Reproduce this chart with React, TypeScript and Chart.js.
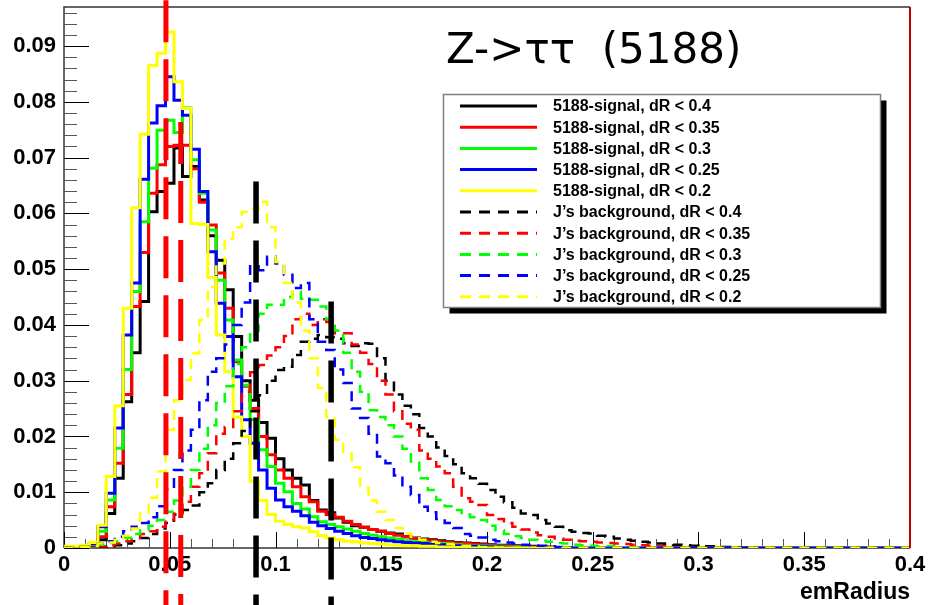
import { useEffect, useRef } from 'react';
import { Chart, registerables } from 'chart.js';

Chart.register(...registerables);

// ---------------- data ----------------
const BIN_WIDTH = 0.004;
const N_BINS = 100;
const X_MIN = 0;
const X_MAX = 0.4;
const Y_MAX = 0.097;

const TITLE = 'Z->ττ  (5188)';
const X_TITLE = 'emRadius';

const signalLabels = [
  '5188-signal, dR < 0.4',
  '5188-signal, dR < 0.35',
  '5188-signal, dR < 0.3',
  '5188-signal, dR < 0.25',
  '5188-signal, dR < 0.2',
];
const backgroundLabels = [
  'J’s background, dR < 0.4',
  'J’s background, dR < 0.35',
  'J’s background, dR < 0.3',
  'J’s background, dR < 0.25',
  'J’s background, dR < 0.2',
];
const seriesColors = ['#000000', '#ff0000', '#00ff00', '#0000ff', '#ffff00'];

// signal histograms (bin contents, bin i starts at i*0.004)
const sigDR040 = [
  0.0001, 0.0001, 0.0002, 0.0005, 0.0015, 0.0062, 0.0125, 0.0262, 0.035, 0.0442,
  0.0603, 0.0639, 0.0654, 0.0717, 0.0666, 0.0684, 0.0624, 0.056, 0.0516, 0.0463,
  0.0379, 0.03, 0.0265, 0.0225, 0.0197, 0.016, 0.014, 0.0125, 0.0113, 0.0085,
  0.0068, 0.0063, 0.0054, 0.0046, 0.004, 0.0037, 0.0033, 0.003, 0.0027, 0.0025,
  0.002, 0.0018, 0.0016, 0.0015, 0.0013, 0.0011, 0.001, 0.0009, 0.0008, 0.0007,
  0.0006, 0.0005, 0.0005, 0.0004, 0.0003, 0.0003, 0.0002, 0.0002, 0.0001, 0.0001,
];
const sigDR035 = [
  0.0001, 0.0002, 0.0003, 0.0006, 0.002, 0.0074, 0.0152, 0.0275, 0.0433, 0.053,
  0.0636, 0.0687, 0.072, 0.0722, 0.0722, 0.068, 0.062, 0.0579, 0.0493, 0.043,
  0.0334, 0.029, 0.025, 0.02, 0.0167, 0.014, 0.0125, 0.011, 0.0092, 0.0083,
  0.0066, 0.006, 0.0055, 0.0048, 0.0042, 0.0037, 0.0033, 0.003, 0.0026, 0.0023,
  0.002, 0.0017, 0.0015, 0.0013, 0.0011, 0.001, 0.0009, 0.0008, 0.0007, 0.0006,
  0.0005, 0.0004, 0.0004, 0.0003, 0.0003, 0.0002, 0.0002, 0.0001,
];
const sigDR030 = [
  0.0002, 0.0002, 0.0003, 0.0007, 0.003, 0.0086, 0.0179, 0.032, 0.046, 0.0585,
  0.0681, 0.0749, 0.0767, 0.0745, 0.0789, 0.0696, 0.0636, 0.057, 0.048, 0.0409,
  0.0337, 0.0292, 0.023, 0.0176, 0.0146, 0.0116, 0.0101, 0.008, 0.007, 0.0056,
  0.0047, 0.0042, 0.0038, 0.0034, 0.003, 0.0026, 0.0023, 0.002, 0.0018, 0.0016,
  0.0013, 0.0011, 0.001, 0.0009, 0.0008, 0.0007, 0.0006, 0.0005, 0.0004, 0.0004,
  0.0003, 0.0003, 0.0002, 0.0002, 0.0001,
];
const sigDR025 = [
  0.0002, 0.0002, 0.0003, 0.0008, 0.0038, 0.0098, 0.0215, 0.0382, 0.0475, 0.0661,
  0.0762, 0.0793, 0.0845, 0.0803, 0.0776, 0.0715, 0.0639, 0.0531, 0.0439, 0.0379,
  0.0307, 0.023, 0.0188, 0.014, 0.0107, 0.0086, 0.0074, 0.0066, 0.0058, 0.0046,
  0.004, 0.0035, 0.003, 0.0026, 0.0022, 0.0019, 0.0017, 0.0015, 0.0013, 0.0011,
  0.001, 0.0009, 0.0008, 0.0007, 0.0006, 0.0005, 0.0004, 0.0004, 0.0003, 0.0003,
  0.0002, 0.0002, 0.0001,
];
const sigDR020 = [
  0.0003, 0.0003, 0.0005, 0.001, 0.0041, 0.0128, 0.0255, 0.043, 0.061, 0.0742,
  0.0865, 0.0887, 0.0925, 0.0836, 0.0788, 0.0582, 0.058, 0.0485, 0.0382, 0.0316,
  0.0235, 0.02, 0.012, 0.0085, 0.006, 0.0048, 0.0042, 0.0038, 0.0036, 0.0029,
  0.0022, 0.0018, 0.0015, 0.0012, 0.0011, 0.0009, 0.0008, 0.0007, 0.0006, 0.0005,
  0.0004, 0.0004, 0.0003, 0.0003, 0.0002, 0.0002, 0.0001,
];

// background histograms
const bkgDR040 = [
  0, 0, 0.0001, 0.0001, 0.0002, 0.0003, 0.0005, 0.0008, 0.0012, 0.0018,
  0.0025, 0.0035, 0.0045, 0.006, 0.0068, 0.0076, 0.01, 0.0116, 0.014, 0.016,
  0.0188, 0.021, 0.0245, 0.0274, 0.03, 0.0319, 0.0325, 0.0346, 0.037, 0.0375,
  0.0382, 0.0378, 0.0375, 0.0367, 0.0362, 0.0367, 0.0366, 0.034, 0.03, 0.0275,
  0.0255, 0.024, 0.0215, 0.02, 0.018, 0.0165, 0.015, 0.0134, 0.0125, 0.0115,
  0.0104, 0.0092, 0.0082, 0.0072, 0.0062, 0.0059, 0.005, 0.0044, 0.0038, 0.0032,
  0.0029, 0.0027, 0.0026, 0.0022, 0.002, 0.0017, 0.0015, 0.0013, 0.0011, 0.001,
  0.0008, 0.0007, 0.0006, 0.0005, 0.0004, 0.0003, 0.0003, 0.0002, 0.0002, 0.0001,
  0.0001,
];
const bkgDR035 = [
  0, 0.0001, 0.0001, 0.0002, 0.0003, 0.0005, 0.0008, 0.0012, 0.0018, 0.0025,
  0.003, 0.0038, 0.005, 0.0062, 0.0083, 0.011, 0.0134, 0.017, 0.0205, 0.0217,
  0.0245, 0.028, 0.0315, 0.0328, 0.0345, 0.036, 0.038, 0.041, 0.042, 0.04,
  0.041, 0.0405, 0.0385, 0.0385, 0.0365, 0.035, 0.033, 0.03, 0.0275, 0.0245,
  0.0223, 0.0212, 0.0175, 0.016, 0.0146, 0.0134, 0.011, 0.0089, 0.0083, 0.0077,
  0.0059, 0.0052, 0.0045, 0.0038, 0.0033, 0.0028, 0.0023, 0.002, 0.0017, 0.0015,
  0.0013, 0.0012, 0.0011, 0.001, 0.0009, 0.0008, 0.0007, 0.0006, 0.0005, 0.0004,
  0.0003, 0.0002, 0.0001,
];
const bkgDR030 = [
  0, 0.0001, 0.0002, 0.0003, 0.0006, 0.0009, 0.0012, 0.0018, 0.0025, 0.0032,
  0.004, 0.005, 0.0065, 0.0085, 0.011, 0.014, 0.0178, 0.022, 0.026, 0.029,
  0.033, 0.036, 0.039, 0.042, 0.0436, 0.0436, 0.045, 0.046, 0.0447, 0.0445,
  0.0433, 0.041, 0.039, 0.035, 0.0316, 0.028, 0.0247, 0.0235, 0.022, 0.02,
  0.0178, 0.0155, 0.0125, 0.0104, 0.0086, 0.0075, 0.0068, 0.006, 0.0055, 0.005,
  0.004, 0.0032, 0.0025, 0.0021, 0.0018, 0.0015, 0.0013, 0.0011, 0.0009, 0.0008,
  0.0006, 0.0005, 0.0004, 0.0003, 0.0003, 0.0002, 0.0001,
];
const bkgDR025 = [
  0, 0.0001, 0.0002, 0.0004, 0.0008, 0.0012, 0.002, 0.003, 0.0038, 0.0045,
  0.0055, 0.0075, 0.0105, 0.014, 0.0175, 0.0212, 0.0265, 0.0316, 0.034, 0.0365,
  0.04, 0.044, 0.0505, 0.0498, 0.0522, 0.051, 0.049, 0.0466, 0.0475, 0.041,
  0.037, 0.0355, 0.032, 0.0296, 0.025, 0.0233, 0.0205, 0.0164, 0.0152, 0.013,
  0.011, 0.0095, 0.0074, 0.0064, 0.0052, 0.0045, 0.0036, 0.0025, 0.0022, 0.0019,
  0.0015, 0.0012, 0.001, 0.0008, 0.0006, 0.0005, 0.0004, 0.0003, 0.0002, 0.0001,
];
const bkgDR020 = [
  0, 0.0001, 0.0002, 0.0004, 0.0008, 0.001, 0.0015, 0.0022, 0.0035, 0.0062,
  0.009, 0.0137, 0.0212, 0.0265, 0.0301, 0.0349, 0.0409, 0.0468, 0.051, 0.0555,
  0.0575, 0.0603, 0.0608, 0.0621, 0.0575, 0.0513, 0.0475, 0.044, 0.039, 0.034,
  0.0287, 0.0235, 0.0194, 0.017, 0.0145, 0.0108, 0.0085, 0.0065, 0.005, 0.0036,
  0.0026, 0.002, 0.0015, 0.0011, 0.0009, 0.0007, 0.0005, 0.0004, 0.0003, 0.0002,
  0.0002, 0.0001,
];

const signalSeries = [sigDR040, sigDR035, sigDR030, sigDR025, sigDR020];
const backgroundSeries = [bkgDR040, bkgDR035, bkgDR030, bkgDR025, bkgDR020];

// vertical dashed marker lines: x position, value where the line starts, colour
const markerX = [0.0482, 0.0552, 0.0908, 0.1263];
const markerTop = [0.0982, 0.0764, 0.0657, 0.0442];
const markerColors = ['#ff0000', '#ff0000', '#000000', '#000000'];

// ---------------- helpers ----------------
function toSteps(values: number[]) {
  const pts: { x: number; y: number }[] = [];
  for (let i = 0; i < N_BINS; i++) {
    pts.push({ x: X_MIN + i * BIN_WIDTH, y: values[i] ?? 0 });
  }
  pts.push({ x: X_MAX, y: values[N_BINS - 1] ?? 0 });
  return pts;
}

const fmt = (v: number | string) => {
  const n = Number(v);
  if (Math.abs(n) < 1e-9) return '0';
  return String(parseFloat(n.toFixed(3)));
};

const FONT_FAMILY = "'Liberation Sans', Arial, sans-serif";

const rootPlugin = {
  id: 'rootStyle',
  beforeDraw(chart: any) {
    const { ctx, width, height } = chart;
    ctx.save();
    ctx.fillStyle = '#ffffff';
    ctx.fillRect(0, 0, width, height);
    ctx.restore();
  },
  beforeDatasetsDraw(chart: any) {
    const { ctx, chartArea: a, scales } = chart;
    const xs = scales.x;
    const ys = scales.y;
    ctx.save();
    // frame
    ctx.strokeStyle = '#333333';
    ctx.lineWidth = 1.5;
    ctx.beginPath();
    ctx.moveTo(a.left, a.bottom);
    ctx.lineTo(a.left, a.top);
    ctx.lineTo(a.right, a.top);
    ctx.stroke();
    ctx.beginPath();
    ctx.moveTo(a.left, a.bottom);
    ctx.lineTo(a.right, a.bottom);
    ctx.stroke();
    // y ticks (major 0.01, minor 0.002)
    ctx.lineWidth = 1;
    for (let k = 0; k * 0.002 <= Y_MAX + 1e-9; k++) {
      const py = Math.round(ys.getPixelForValue(k * 0.002)) + 0.5;
      const len = k % 5 === 0 ? 25 : 13;
      ctx.strokeStyle = k % 5 === 0 ? '#000000' : '#555555';
      ctx.beginPath();
      ctx.moveTo(a.left, py);
      ctx.lineTo(a.left + len, py);
      ctx.stroke();
    }
    // x ticks (major 0.05, minor 0.01)
    for (let k = 0; k <= 40; k++) {
      const px = Math.round(xs.getPixelForValue(k * 0.01)) + 0.5;
      const len = k % 5 === 0 ? 16 : 9;
      ctx.strokeStyle = k % 5 === 0 ? '#000000' : '#555555';
      ctx.beginPath();
      ctx.moveTo(px, a.bottom);
      ctx.lineTo(px, a.bottom - len);
      ctx.stroke();
    }
    ctx.restore();
  },
  afterDraw(chart: any) {
    const { ctx, chartArea: a, scales, height } = chart;
    const xs = scales.x;
    const ys = scales.y;
    ctx.save();

    // right frame edge (red)
    ctx.strokeStyle = '#c00000';
    ctx.lineWidth = 2;
    ctx.beginPath();
    ctx.moveTo(a.right, a.top);
    ctx.lineTo(a.right, a.bottom);
    ctx.stroke();

    // dashed marker lines
    markerX.forEach((mx, i) => {
      const px = xs.getPixelForValue(mx);
      const py = ys.getPixelForValue(markerTop[i]);
      ctx.strokeStyle = markerColors[i];
      ctx.lineWidth = i < 2 ? 5 : 5.5;
      ctx.setLineDash([42, 17]);
      ctx.beginPath();
      ctx.moveTo(px, py);
      ctx.lineTo(px, height);
      ctx.stroke();
    });
    ctx.setLineDash([]);

    // title
    ctx.fillStyle = '#000000';
    ctx.font = "42px 'DejaVu Sans', sans-serif";
    ctx.textAlign = 'left';
    ctx.textBaseline = 'alphabetic';
    ctx.fillText(TITLE, 446, 63);

    // x axis title
    ctx.font = `bold 23px ${FONT_FAMILY}`;
    ctx.textAlign = 'right';
    ctx.fillText(X_TITLE, a.right, 599);

    // legend
    const bx = 443.5;
    const by = 94.5;
    const bw = 437;
    const bh = 213;
    ctx.fillStyle = '#000000';
    ctx.fillRect(bx + 6, by + 6, bw, bh);
    ctx.fillStyle = '#ffffff';
    ctx.fillRect(bx, by, bw, bh);
    ctx.strokeStyle = '#808080';
    ctx.lineWidth = 1.5;
    ctx.strokeRect(bx, by, bw, bh);

    const dsList = chart.data.datasets;
    ctx.font = `bold 16px ${FONT_FAMILY}`;
    ctx.textAlign = 'left';
    ctx.textBaseline = 'middle';
    dsList.forEach((ds: any, i: number) => {
      const ry = 106 + i * 21.2;
      ctx.strokeStyle = ds.borderColor;
      ctx.lineWidth = 3;
      ctx.setLineDash(ds.borderDash && ds.borderDash.length ? [11, 8] : []);
      ctx.beginPath();
      ctx.moveTo(460, ry);
      ctx.lineTo(537, ry);
      ctx.stroke();
      ctx.setLineDash([]);
      ctx.fillStyle = '#000000';
      ctx.fillText(ds.label, 553, ry + 1);
    });

    ctx.restore();
  },
};

export default function App() {
  const canvasRef = useRef<HTMLCanvasElement | null>(null);

  useEffect(() => {
    if (!canvasRef.current) return;
    const datasets: any[] = [];
    signalSeries.forEach((vals, i) => {
      datasets.push({
        label: signalLabels[i],
        data: toSteps(vals),
        borderColor: seriesColors[i],
        borderWidth: 3,
        borderDash: [],
        stepped: 'before',
        fill: false,
        pointRadius: 0,
        order: 20 - i,
      });
    });
    backgroundSeries.forEach((vals, i) => {
      datasets.push({
        label: backgroundLabels[i],
        data: toSteps(vals),
        borderColor: seriesColors[i],
        borderWidth: 2.5,
        borderDash: [10, 7],
        stepped: 'before',
        fill: false,
        pointRadius: 0,
        order: 10 - i,
      });
    });

    const tickFont = { family: FONT_FAMILY, size: 22, weight: 'bold' };

    const chart = new Chart(canvasRef.current, {
      type: 'line',
      data: { datasets },
      options: {
        animation: false,
        responsive: true,
        maintainAspectRatio: false,
        events: [],
        layout: { padding: { top: 7, right: 19, left: 0, bottom: 0 } },
        plugins: {
          legend: { display: false },
          tooltip: { enabled: false },
          title: { display: false },
        },
        scales: {
          x: {
            type: 'linear',
            min: X_MIN,
            max: X_MAX,
            grid: { display: false, drawTicks: false, tickLength: 0 },
            border: { display: false },
            ticks: {
              stepSize: 0.05,
              autoSkip: false,
              maxRotation: 0,
              padding: 4,
              color: '#000000',
              font: tickFont,
              callback: (v: any) => fmt(v),
            },
            afterFit: (s: any) => {
              s.height = 57;
              s.paddingLeft = 0;
              s.paddingRight = 0;
            },
          },
          y: {
            type: 'linear',
            min: 0,
            max: Y_MAX,
            grid: { display: false, drawTicks: false, tickLength: 0 },
            border: { display: false },
            ticks: {
              stepSize: 0.01,
              includeBounds: false,
              autoSkip: false,
              padding: 8,
              color: '#000000',
              font: tickFont,
              callback: (v: any) => fmt(v),
            },
            afterFit: (s: any) => {
              s.width = 64;
              s.paddingTop = 0;
              s.paddingBottom = 0;
            },
          },
        },
      } as any,
      plugins: [rootPlugin],
    });
    return () => chart.destroy();
  }, []);

  return (
    <div style={{ position: 'absolute', left: 0, top: 0, width: 929, height: 605 }}>
      <canvas ref={canvasRef} />
    </div>
  );
}
